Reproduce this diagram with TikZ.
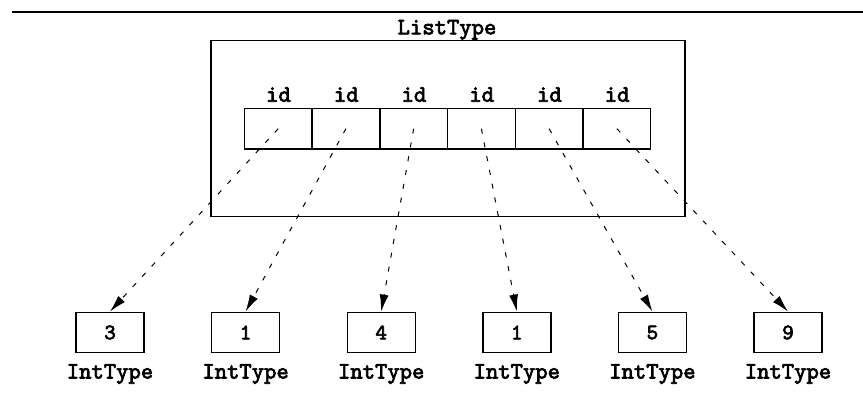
\documentclass[tikz,border=0pt]{standalone}
\usepackage{fontspec}
\newfontfamily\ttbold{lmmono10-regular.otf}[FakeBold=3]
\usetikzlibrary{arrows.meta}
\begin{document}
\begin{tikzpicture}[x=1pt,y=-1pt,
  lbl/.style={font=\fontsize{23.5}{23.5}\selectfont\ttbold, inner sep=0pt},
  cellbox/.style={draw, line width=1.4pt, minimum width=67.7pt, minimum height=40.7pt, inner sep=0pt},
  intbox/.style={draw, line width=1.4pt, minimum width=68pt, minimum height=40.5pt, inner sep=0pt, font=\fontsize{22}{22}\selectfont\ttbold},
  ptr/.style={dash pattern=on 5pt off 9pt, line width=1pt, -{Latex[length=17pt,width=9pt]}}]
\useasboundingbox (0,0) rectangle (863,400);
\draw[line width=2.8pt] (12,12) -- (863,12);
\node[draw, line width=1.4pt, minimum width=474pt, minimum height=176pt, inner sep=0pt] (list) at (448,128.7) {};
\node[lbl, anchor=base] (listlbl) at (447,34.3) {ListType};
\foreach \i/\v in {0/3,1/1,2/4,3/1,4/5,5/9} {
  \node[cellbox] (c\i) at ({278.2+67.73*\i},128.7) {};
  \node[lbl, anchor=base] (id\i) at ({278.5+67.73*\i},101.7) {id};
  \node[intbox] (b\i) at ({110+135.6*\i},332.5) {\v};
  \node[lbl, anchor=base] (t\i) at ({110+135.6*\i},378.5) {IntType};
}
\foreach \i in {0,...,5} {
  \draw[ptr] (c\i.center) -- (b\i.north);
}
\end{tikzpicture}
\end{document}
